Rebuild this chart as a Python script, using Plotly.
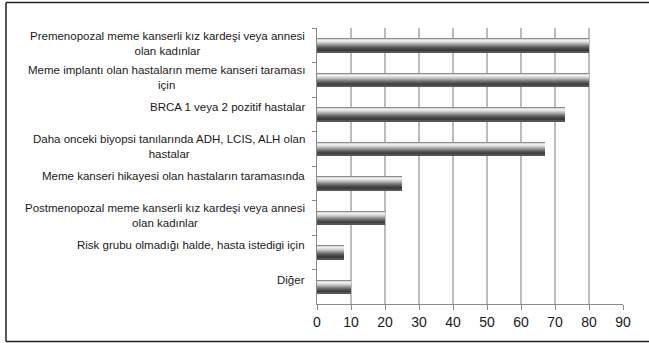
import plotly.graph_objects as go

# Survey answers: reasons for breast MRI screening (percent of respondents)
categories = [
    "Premenopozal meme kanserli kız kardeşi veya annesi<br>olan kadınlar",
    "Meme implantı olan hastaların meme kanseri taraması<br>için",
    "BRCA 1 veya 2 pozitif hastalar",
    "Daha onceki biyopsi tanılarında ADH, LCIS, ALH olan<br>hastalar",
    "Meme kanseri hikayesi olan hastaların taramasında",
    "Postmenopozal meme kanserli kız kardeşi veya annesi<br>olan kadınlar",
    "Risk grubu olmadığı halde, hasta istedigi için",
    "Diğer",
]
values = [80, 80, 73, 67, 25, 20, 8, 10]
x_ticks = [0, 10, 20, 30, 40, 50, 60, 70, 80, 90]

# Horizontal shading bands (top to bottom) that give the bars a cylinder look
shade = [
    "#8c8c8c", "#d9d9d9", "#eeeeee", "#e2e2e2", "#cfcfcf", "#b8b8b8",
    "#9e9e9e", "#858585", "#6e6e6e", "#5a5a5a", "#4a4a4a", "#3e3e3e",
    "#3a3a3a", "#555555",
]
BAR_W = 0.42

W, H = 649, 343
L, R, T, B = 317, 26, 28, 39
pw, ph = W - L - R, H - T - B

fig = go.Figure()
n = len(shade)
step = BAR_W / n
for i, c in enumerate(shade):
    # each band runs to the bottom of the bar; the next band paints over it
    fig.add_trace(go.Bar(
        x=values, y=categories, orientation="h",
        width=BAR_W - i * step, offset=-BAR_W / 2 + i * step,
        marker=dict(color=c, line=dict(width=0)),
        hoverinfo="skip", showlegend=False,
    ))

# Category labels sit slightly above each bar, right-aligned against the axis
for cat in categories:
    fig.add_annotation(
        x=-10 / pw, xref="paper", y=cat, yref="y",
        text=cat, showarrow=False, xanchor="right", align="center",
        yshift=2 if "<br>" in cat else 7,
        font=dict(family="Liberation Sans, Arial", size=11.5, color="#1a1a1a"),
    )

# Frame around the chart (open on the right)
def px_x(p):
    return (p - L) / pw

def px_y(p):
    return (H - B - p) / ph

frame = dict(color="#222222", width=1.5)
fig.add_shape(type="line", xref="paper", yref="paper",
              x0=px_x(6), x1=px_x(670), y0=px_y(2.5), y1=px_y(2.5), line=frame)
fig.add_shape(type="line", xref="paper", yref="paper",
              x0=px_x(6), x1=px_x(670), y0=px_y(341.5), y1=px_y(341.5), line=frame)
fig.add_shape(type="line", xref="paper", yref="paper",
              x0=px_x(6), x1=px_x(6), y0=px_y(2.5), y1=px_y(341.5), line=frame)

fig.update_layout(
    width=W, height=H,
    margin=dict(l=L, r=R, t=T, b=B, pad=0),
    paper_bgcolor="white", plot_bgcolor="white",
    barmode="overlay", bargap=0,
    font=dict(family="Liberation Sans, Arial", color="#1a1a1a"),
)
fig.update_xaxes(
    range=[0, 90], tickvals=x_ticks, ticktext=[str(v) for v in x_ticks],
    showgrid=True, gridcolor="#bdbdbd", gridwidth=1.6,
    zeroline=False, showline=True, linecolor="#8a8a8a", linewidth=1.2,
    ticks="outside", ticklen=5, tickcolor="#8a8a8a",
    tickfont=dict(size=14, color="#1a1a1a"), fixedrange=True,
)
fig.update_yaxes(
    type="category", categoryorder="array", categoryarray=categories,
    autorange="reversed", showticklabels=False, showgrid=False,
    zeroline=False, showline=True, linecolor="#8a8a8a", linewidth=1.2,
    ticks="outside", tickson="boundaries", ticklen=4, tickcolor="#8a8a8a",
    fixedrange=True,
)

fig.write_html("out.html", config={"displayModeBar": False})
